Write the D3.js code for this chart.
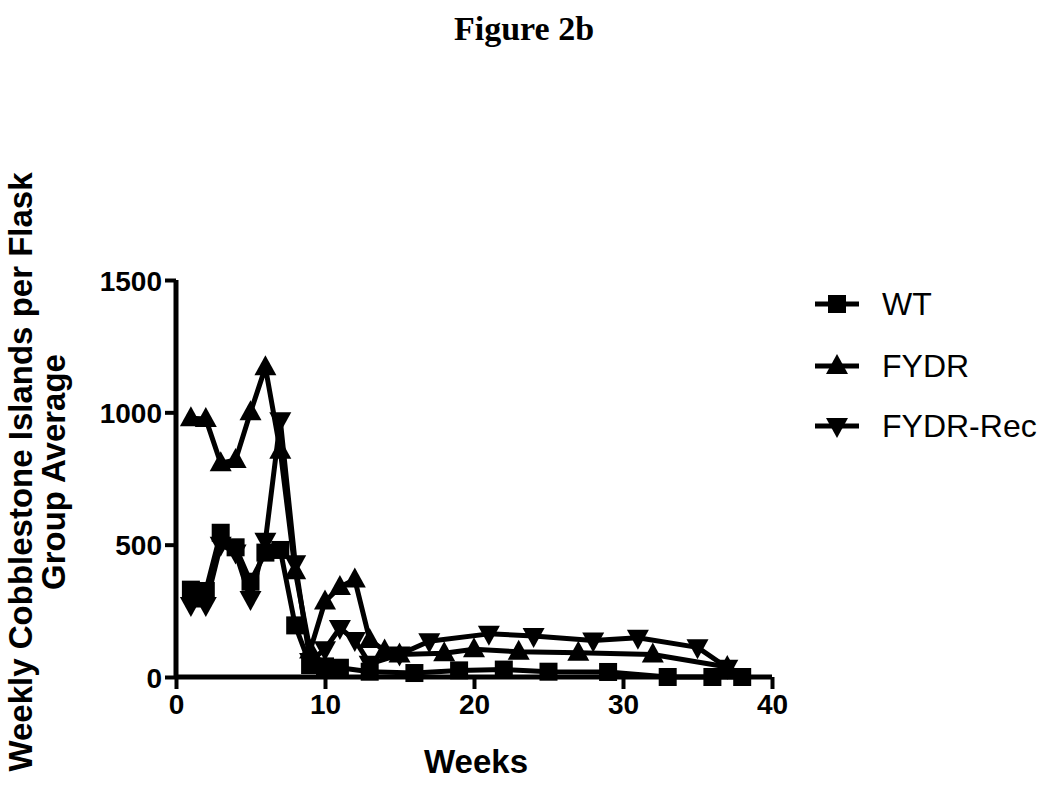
<!DOCTYPE html>
<html>
<head>
<meta charset="utf-8">
<script src="https://cdn.jsdelivr.net/npm/d3@7"></script>
<style>
  body { margin: 0; background: #fff; }
  text { font-family: "Liberation Sans", Arial, sans-serif; }
</style>
</head>
<body>
<script>
// data
var wtWeeks = [1, 2, 3, 4, 5, 6, 7, 8, 9, 10, 11, 13, 16, 19, 22, 25, 29, 33, 36, 38];
var wtValues = [330, 325, 545, 490, 360, 470, 480, 195, 45, 40, 35, 20, 15, 25, 28, 20, 19, 0, 0, 0];

var fydrWeeks = [1, 2, 3, 4, 5, 6, 7, 8, 9, 10, 11, 12, 13, 14, 15, 18, 20, 23, 27, 32, 37];
var fydrValues = [978, 975, 808, 820, 1000, 1170, 855, 400, 100, 285, 340, 368, 140, 100, 85, 90, 105, 95, 92, 85, 38];

var recWeeks = [1, 2, 3, 4, 5, 6, 7, 8, 9, 10, 11, 12, 13, 15, 17, 21, 24, 28, 31, 35, 37];
var recValues = [272, 272, 500, 470, 295, 515, 970, 430, 60, 105, 185, 140, 50, 85, 135, 163, 155, 138, 148, 112, 35];

var seriesNames = ["WT", "FYDR", "FYDR-Rec"];
var xTicks = [0, 10, 20, 30, 40];
var yTicks = [0, 500, 1000, 1500];

var width = 1050, height = 788;
var plotLeft = 176, plotRight = 772, plotTop = 280, plotBottom = 677;

var svg = d3.select("body").append("svg")
    .attr("width", width)
    .attr("height", height);

var x = d3.scaleLinear().domain([0, 40]).range([plotLeft, plotRight]);
var y = d3.scaleLinear().domain([0, 1500]).range([plotBottom, plotTop]);

// title
svg.append("text")
    .attr("x", 524).attr("y", 40)
    .attr("text-anchor", "middle")
    .style("font-family", "'Liberation Serif', 'Times New Roman', serif")
    .style("font-weight", "bold")
    .style("font-size", "34px")
    .text("Figure 2b");

// axes
var xAxis = d3.axisBottom(x).tickValues(xTicks).tickSize(12).tickPadding(5)
    .tickFormat(d3.format("d"));
var yAxis = d3.axisLeft(y).tickValues(yTicks).tickSize(11).tickPadding(3)
    .tickFormat(d3.format("d"));

var gx = svg.append("g").attr("transform", "translate(0," + plotBottom + ")").call(xAxis);
var gy = svg.append("g").attr("transform", "translate(" + plotLeft + ",0)").call(yAxis);

[gx, gy].forEach(function(g) {
  g.select(".domain").attr("stroke-width", 5).attr("stroke", "#000");
  g.selectAll(".tick line").attr("stroke-width", 4).attr("stroke", "#000");
  g.selectAll(".tick text")
    .style("font-size", "28px")
    .style("font-weight", "bold")
    .style("font-family", "'Liberation Sans', Arial, sans-serif")
    .attr("fill", "#000");
});
gx.select(".domain").attr("d", "M" + plotLeft + ",0H" + plotRight);
gy.select(".domain").attr("d", "M0," + plotBottom + "V" + plotTop);
gy.selectAll(".tick text").attr("dy", "0.36em");

// axis labels
svg.append("text")
    .attr("x", 476).attr("y", 773)
    .attr("text-anchor", "middle")
    .style("font-size", "33px").style("font-weight", "bold")
    .text("Weeks");

var ylab = svg.append("text")
    .attr("transform", "translate(0,472) rotate(-90)")
    .attr("text-anchor", "middle")
    .style("font-size", "33px").style("font-weight", "bold");
ylab.append("tspan").attr("x", 0).attr("y", 32).text("Weekly Cobblestone Islands per Flask");
ylab.append("tspan").attr("x", 0).attr("y", 65).text("Group Average");

// markers
function drawMarker(g, type, cx, cy) {
  if (type === 0) {
    g.append("rect").attr("x", cx - 9).attr("y", cy - 9)
      .attr("width", 18).attr("height", 18).attr("fill", "#000");
  } else if (type === 1) {
    g.append("path").attr("d", "M" + cx + "," + (cy - 12) + "L" + (cx + 11) + "," + (cy + 8) + "L" + (cx - 11) + "," + (cy + 8) + "Z")
      .attr("fill", "#000");
  } else {
    g.append("path").attr("d", "M" + cx + "," + (cy + 12) + "L" + (cx + 11) + "," + (cy - 8) + "L" + (cx - 11) + "," + (cy - 8) + "Z")
      .attr("fill", "#000");
  }
}

var allSeries = [
  { weeks: wtWeeks, values: wtValues },
  { weeks: fydrWeeks, values: fydrValues },
  { weeks: recWeeks, values: recValues }
];

var line = d3.line()
    .x(function(d) { return x(d[0]); })
    .y(function(d) { return y(d[1]); });

allSeries.forEach(function(s, k) {
  var pts = s.weeks.map(function(w, i) { return [w, s.values[i]]; });
  var g = svg.append("g");
  g.append("path")
    .attr("d", line(pts))
    .attr("fill", "none")
    .attr("stroke", "#000")
    .attr("stroke-width", 5)
    .attr("stroke-linejoin", "round");
  pts.forEach(function(p) { drawMarker(g, k, x(p[0]), y(p[1])); });
});

// legend
var legendY = [304, 366, 426];
seriesNames.forEach(function(name, k) {
  var g = svg.append("g");
  g.append("line")
    .attr("x1", 815).attr("x2", 859)
    .attr("y1", legendY[k]).attr("y2", legendY[k])
    .attr("stroke", "#000").attr("stroke-width", 5);
  drawMarker(g, k, 837, legendY[k]);
  g.append("text")
    .attr("x", 882).attr("y", legendY[k] + 11)
    .style("font-size", "32px")
    .text(name);
});
</script>
</body>
</html>
